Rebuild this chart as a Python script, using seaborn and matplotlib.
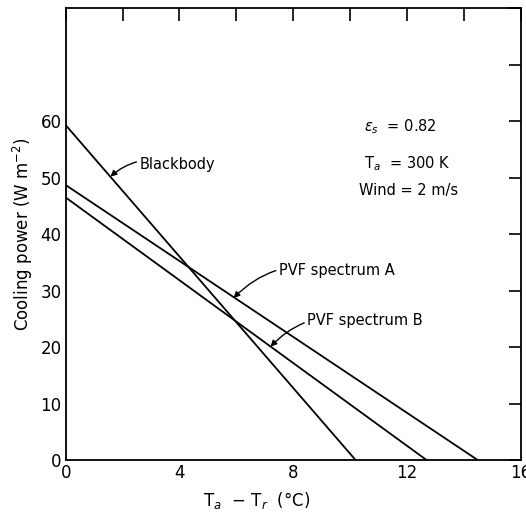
import pandas as pd
import matplotlib
matplotlib.use("Agg")
import matplotlib.pyplot as plt
import seaborn as sns

# Valores (W m^-2 vs Ta - Tr)
curves = ['Blackbody', 'PVF spectrum A', 'PVF spectrum B']
dT_blackbody = [0, 10.2]
power_blackbody = [59.3, 0]
dT_pvf_a = [0, 14.5]
power_pvf_a = [48.7, 0]
dT_pvf_b = [0, 12.7]
power_pvf_b = [46.5, 0]

df = pd.concat([
    pd.DataFrame({'dT': dT_blackbody, 'P': power_blackbody, 'curve': curves[0]}),
    pd.DataFrame({'dT': dT_pvf_a, 'P': power_pvf_a, 'curve': curves[1]}),
    pd.DataFrame({'dT': dT_pvf_b, 'P': power_pvf_b, 'curve': curves[2]}),
])

sns.set_style("white")
plt.rcParams['font.family'] = ['DejaVu Sans']
plt.rcParams['text.color'] = 'black'
plt.rcParams['axes.labelcolor'] = 'black'

fig = plt.figure(figsize=(5.26, 5.12), dpi=100)
ax = fig.add_axes([0.125, 0.101, 0.865, 0.883])

sns.lineplot(data=df, x='dT', y='P', units='curve', estimator=None,
             color='black', linewidth=1.3, ax=ax, legend=False)

ax.set_xlim(0, 16)
ax.set_ylim(0, 80)
ax.set_xticks(range(0, 17, 2))
ax.set_xticklabels(['0', '', '4', '', '8', '', '12', '', '16'])
ax.set_yticks(range(0, 81, 10))
ax.set_yticklabels(['0', '10', '20', '30', '40', '50', '60', '', ''])
ax.tick_params(direction='in', length=9, width=1.2, top=True, right=True,
               labelsize=12, colors='black', pad=3)
for s in ax.spines.values():
    s.set_color('black')
    s.set_linewidth(1.3)

ax.set_xlabel('T$_a$  $-$ T$_r$  (°C)', fontsize=12, labelpad=4)
ax.xaxis.set_label_coords(0.42, -0.065)
ax.set_ylabel('Cooling power (W m$^{-2}$)', fontsize=12, labelpad=4)

arrow = dict(arrowstyle='-|>', color='black', lw=1, mutation_scale=9,
             shrinkA=0, shrinkB=0)
ax.annotate('Blackbody', xy=(1.57, 50.2), xytext=(2.6, 52.3), fontsize=10.5,
            va='center', arrowprops=dict(connectionstyle='arc3,rad=0.3', **arrow))
ax.annotate('PVF spectrum A', xy=(5.9, 28.7), xytext=(7.5, 33.5), fontsize=10.5,
            va='center', arrowprops=dict(connectionstyle='arc3,rad=0.3', **arrow))
ax.annotate('PVF spectrum B', xy=(7.2, 20.1), xytext=(8.5, 24.7), fontsize=10.5,
            va='center', arrowprops=dict(connectionstyle='arc3,rad=0.3', **arrow))

ax.text(10.5, 59, r'$\epsilon_s$  = 0.82', fontsize=10.5, va='center')
ax.text(10.5, 52.5, r'T$_a$  = 300 K', fontsize=10.5, va='center')
ax.text(10.3, 47.8, 'Wind = 2 m/s', fontsize=10.5, va='center')

fig.savefig('out.png', dpi=100)
